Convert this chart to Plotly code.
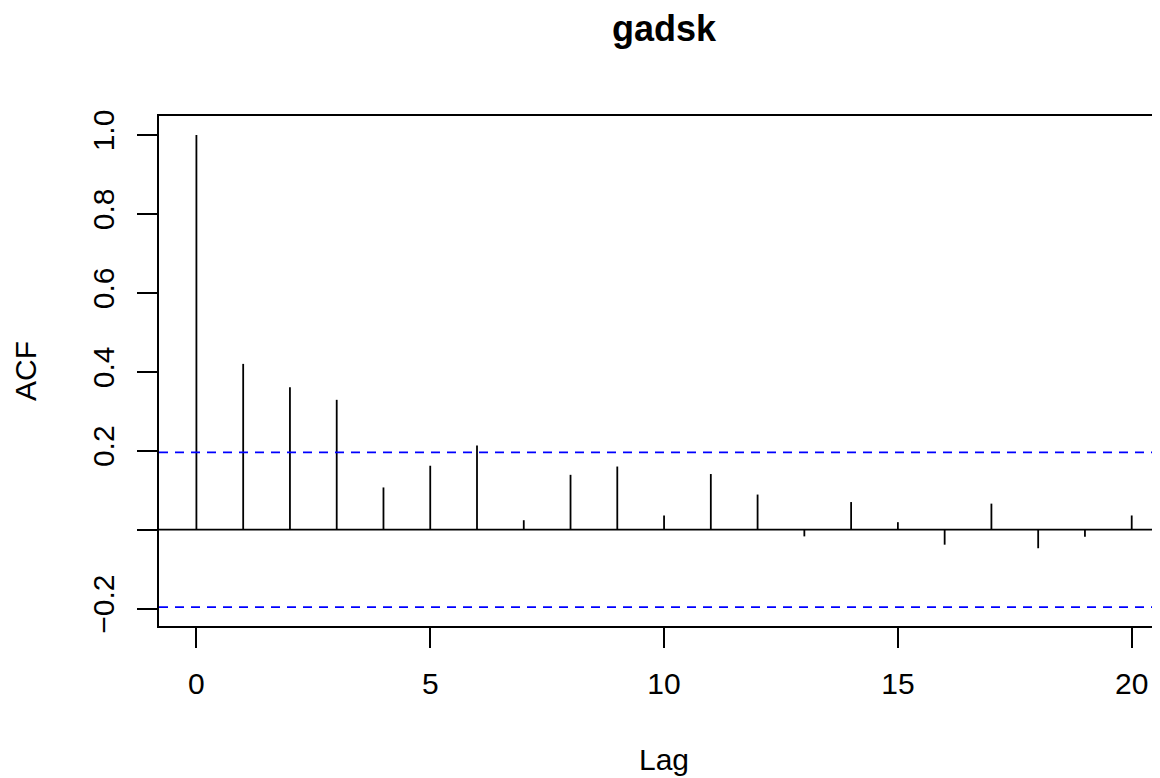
import plotly.graph_objects as go

# ACF values
lags = list(range(21))
acf_vals = [1.0, 0.420, 0.361, 0.329, 0.107, 0.162, 0.213, 0.024, 0.139, 0.160,
            0.036, 0.141, 0.089, -0.017, 0.070, 0.019, -0.038, 0.066, -0.047, -0.018, 0.036]
ci = 0.196
y_ticks = [-0.2, 0.0, 0.2, 0.4, 0.6, 0.8, 1.0]
y_ticktext = ["\u22120.2", "", "0.2", "0.4", "0.6", "0.8", "1.0"]
x_ticks = [0, 5, 10, 15, 20]

FONT = "Liberation Sans, Arial, sans-serif"
TXT = {"family": FONT, "size": 30, "color": "black"}

# vertical spikes, one segment per lag
xs, ys = [], []
for lag, v in zip(lags, acf_vals):
    xs += [lag, lag, None]
    ys += [0, v, None]

fig = go.Figure()

fig.add_trace(go.Scatter(
    x=xs, y=ys, mode="lines",
    line={"color": "black", "width": 1.8},
    hoverinfo="skip", showlegend=False
))

# zero line and confidence bounds
fig.add_hline(y=0, line={"color": "black", "width": 1.8})
for b in (ci, -ci):
    fig.add_hline(y=b, line={"color": "#0000FF", "width": 1.8, "dash": "9px,7px"})

fig.update_xaxes(
    range=[-0.8, 20.605],
    tickvals=x_ticks,
    ticks="outside", ticklen=20, tickwidth=1.7, tickcolor="black",
    showline=True, linecolor="black", linewidth=1.9, mirror=True,
    showgrid=False, zeroline=False,
    tickfont=TXT, ticklabelstandoff=10,
)
fig.update_yaxes(
    range=[-0.244, 1.048],
    tickvals=y_ticks, ticktext=y_ticktext, tickangle=-90,
    ticks="outside", ticklen=20, tickwidth=1.7, tickcolor="black",
    showline=True, linecolor="black", linewidth=1.9, mirror=False,
    showgrid=False, zeroline=False,
    tickfont=TXT, ticklabelstandoff=11,
)

# axis titles placed like R's mtext
fig.add_annotation(text="Lag", x=10, xref="x", y=-0.261, yref="paper",
                   xanchor="center", yanchor="middle", showarrow=False, font=TXT)
fig.add_annotation(text="ACF", x=-0.1339, xref="paper", y=0.5, yref="paper",
                   xanchor="center", yanchor="middle", textangle=-90,
                   showarrow=False, font=TXT)

fig.update_layout(
    width=1152, height=770,
    margin={"l": 151, "r": 0, "t": 108, "b": 152},
    paper_bgcolor="white", plot_bgcolor="white",
    title={"text": "<b>gadsk</b>", "x": 656 / 1152, "xanchor": "center",
           "y": 1 - 20 / 770, "yanchor": "middle",
           "font": {"family": FONT, "size": 36, "color": "black"}},
    showlegend=False,
)

fig.write_html("out.html")
